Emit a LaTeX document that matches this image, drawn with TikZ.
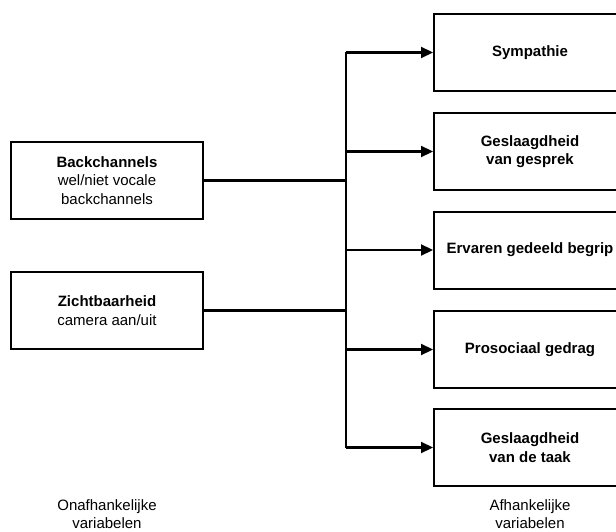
\documentclass[tikz,border=0pt]{standalone}
\usepackage{fontspec}
\setmainfont{Liberation Sans}
\usetikzlibrary{arrows.meta, positioning}
\tikzset{>={Triangle[length=12pt,width=11pt]}}

\begin{document}
\begin{tikzpicture}[x=1pt, y=-1pt, line width=2.2pt,
  varbox/.style={draw, line width=2pt, minimum width=192pt, minimum height=77pt,
    align=center, inner sep=0pt, font=\fontsize{15}{18.5}\selectfont},
  caption/.style={align=center, font=\fontsize{15}{18}\selectfont}]

\clip (0,0) rectangle (616,532);

% onafhankelijke variabelen
\node[varbox] (bc) at (107,180.5) {\textbf{Backchannels}\\wel/niet vocale\\backchannels};
\node[varbox] (zb) at (107,310.5) {\textbf{Zichtbaarheid}\\camera aan/uit};

% afhankelijke variabelen
\node[varbox] (sym) at (530,52.5)  {\textbf{Sympathie}};
\node[varbox] (gg)  at (530,151.5) {\textbf{Geslaagdheid}\\\textbf{van gesprek}};
\node[varbox] (egb) at (530,250)   {\textbf{Ervaren gedeeld begrip}};
\node[varbox] (pg)  at (530,349.5) {\textbf{Prosociaal gedrag}};
\node[varbox] (gt)  at (530,447.5) {\textbf{Geslaagdheid}\\\textbf{van de taak}};

\coordinate (top) at (346,52.5);
\coordinate (bot) at (346,447.5);

\draw (top)--(bot);
\draw (bc.east)--(bc.east -| top);
\draw (zb.east)--(zb.east -| top);
\draw [->] (top)--(sym);
\draw [->] (gg.west -| top)--(gg);
\draw [->] (egb.west -| top)--(egb);
\draw [->] (pg.west -| top)--(pg);
\draw [->] (bot)--(gt);

\node[caption] (onaf) at (107,514) {Onafhankelijke\\variabelen};
\node[caption] (af) at (530,514) {Afhankelijke\\variabelen};

\end{tikzpicture}
\end{document}
